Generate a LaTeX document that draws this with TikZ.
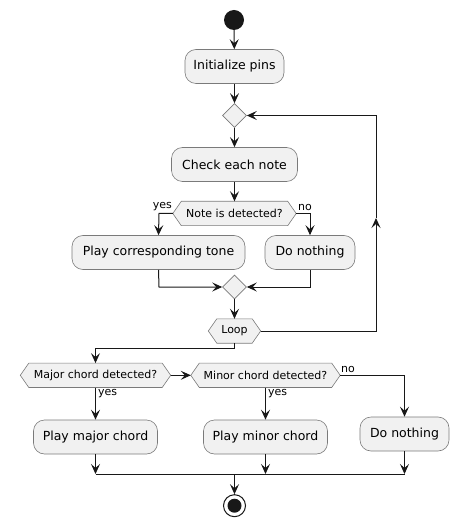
\documentclass[tikz,border=0pt]{standalone}
\usepackage{fontspec}
\setmainfont{DejaVu Sans}
\usetikzlibrary{arrows.meta,shapes.geometric,backgrounds,calc}
\definecolor{fillc}{HTML}{F1F1F1}
\definecolor{linec}{HTML}{181818}
\definecolor{borderc}{HTML}{7A7A7A}
\tikzset{
  actbox/.style={draw=borderc, line width=0.6pt, fill=fillc, rounded corners=11pt, minimum height=34pt, inner sep=0pt, font=\fontsize{12.5pt}{14pt}\selectfont},
  hexbox/.style={inner sep=0pt, minimum height=24pt, font=\fontsize{11pt}{13pt}\selectfont},
  diam/.style={diamond, draw=borderc, line width=0.6pt, fill=fillc, inner sep=0pt, minimum width=24pt, minimum height=24pt},
  flow/.style={draw=linec, line width=1pt, -{Stealth[length=10pt,width=9pt,inset=4pt]}},
  plain/.style={draw=linec, line width=1pt},
  lbl/.style={inner sep=0pt, font=\fontsize{11pt}{13pt}\selectfont}
}
\newcommand{\hexdraw}[1]{%
  \begin{scope}[on background layer]
  \draw[draw=borderc, line width=0.6pt, fill=fillc] (#1.west) -- ([xshift=8.5pt]#1.north west) -- ([xshift=-8.5pt]#1.north east) -- (#1.east) -- ([xshift=-8.5pt]#1.south east) -- ([xshift=8.5pt]#1.south west) -- cycle;
  \end{scope}}
\begin{document}
\begin{tikzpicture}[x=1pt,y=-1pt]
\useasboundingbox (0,0) rectangle (459,526);
\node[circle, fill=linec, minimum size=20pt, inner sep=0pt] (start) at (234,20) {};
\node[actbox, minimum width=99pt] (init) at (234.5,66.5) {Initialize pins};
\node[diam] (d1) at (234.5,115.5) {};
\node[actbox, minimum width=126pt] (check) at (234.5,164.5) {Check each note};
\node[hexbox, minimum width=123pt] (note) at (234.5,213.5) {Note is detected?};
\hexdraw{note}
\node[actbox, minimum width=173pt] (pct) at (158.5,252.5) {Play corresponding tone};
\node[actbox, minimum width=90pt] (dn1) at (310,252.5) {Do nothing};
\node[diam] (d2) at (234.5,287) {};
\node[hexbox, minimum width=52pt] (loop) at (234.5,331) {Loop};
\hexdraw{loop}
\node[hexbox, minimum width=150pt] (major) at (95.5,375.3) {Major chord detected?};
\hexdraw{major}
\node[hexbox, minimum width=149pt] (minor) at (265.5,375.3) {Minor chord detected?};
\hexdraw{minor}
\node[actbox, minimum width=124pt] (pmaj) at (95.5,437) {Play major chord};
\node[actbox, minimum width=124pt] (pmin) at (265.5,437) {Play minor chord};
\node[actbox, minimum width=89pt] (dn2) at (404.5,434) {Do nothing};
\node[circle, draw=linec, line width=1pt, fill=white, minimum size=22pt, inner sep=0pt] (end) at (234.5,505.7) {};
\fill[linec] (end.center) circle (7pt);
% labels
\node[lbl, anchor=east] (ly1) at (172,207) {yes};
\node[lbl, anchor=west] (ln1) at (298,207) {no};
\node[lbl, anchor=west] (ly2) at (98,394) {yes};
\node[lbl, anchor=west] (ly3) at (268,394) {yes};
\node[lbl, anchor=west] (ln2) at (341,369.5) {no};
% coordinates
\coordinate (nl) at (159,213.5);
\coordinate (nr) at (310,213.5);
\coordinate (pl) at (159,287);
\coordinate (pr) at (310,287);
\coordinate (lr) at (376,331);
\coordinate (lm) at (376,218);
\coordinate (lt) at (376,115.5);
\coordinate (lb) at (234.5,348.5);
\coordinate (lbl2) at (95.5,348.5);
\coordinate (mr) at (404.5,375.3);
\coordinate (b1) at (95.5,474);
\coordinate (b2) at (265.5,474);
\coordinate (b3) at (404.5,474);
\coordinate (bc) at (234.5,474);
% connectors
\draw[flow] (start) -- (init);
\draw[flow] (init) -- (d1);
\draw[flow] (d1) -- (check);
\draw[flow] (check) -- (note);
\draw[flow] (note.west) -- (nl) -- (pct.north);
\draw[flow] (note.east) -- (nr) -- (dn1.north);
\draw[flow] (pct.south) -- (pl) -- (d2.west);
\draw[flow] (dn1.south) -- (pr) -- (d2.east);
\draw[flow] (d2) -- (loop);
\draw[flow] (loop.east) -- (lr) -- (lm);
\draw[flow] (lm) -- (lt) -- (d1.east);
\draw[flow] (loop.south) -- (lb) -- (lbl2) -- (major.north);
\draw[flow] (major.east) -- (minor.west);
\draw[flow] (major.south) -- (pmaj.north);
\draw[flow] (minor.south) -- (pmin.north);
\draw[flow] (minor.east) -- (mr) -- (dn2.north);
\draw[flow] (pmaj.south) -- (b1);
\draw[flow] (pmin.south) -- (b2);
\draw[flow] (dn2.south) -- (b3);
\draw[plain] (b1) -- (b3);
\draw[flow] (bc) -- (end);
\end{tikzpicture}
\end{document}
